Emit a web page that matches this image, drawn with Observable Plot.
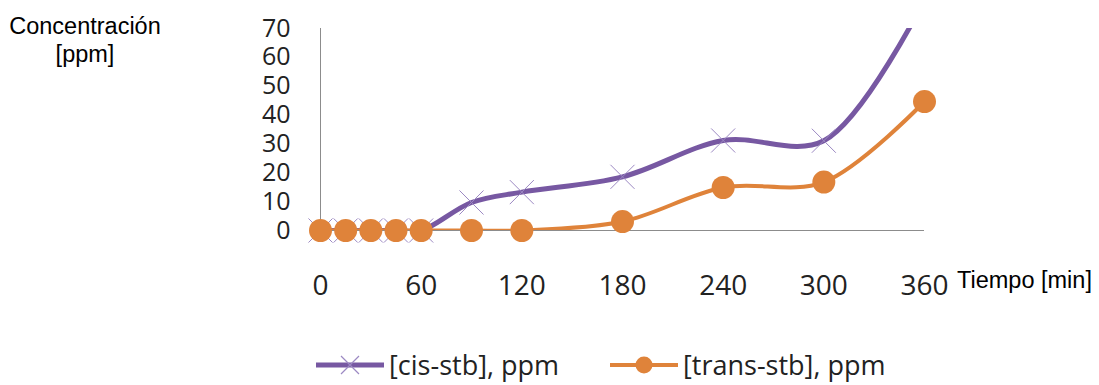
<!DOCTYPE html>
<html>
<head>
<meta charset="utf-8">
<script src="https://cdn.jsdelivr.net/npm/d3@7"></script>
<script src="https://cdn.jsdelivr.net/npm/@observablehq/plot@0.6"></script>
<style>
  body { margin: 0; background: #fff; }
  #wrap { position: relative; width: 1099px; height: 385px; overflow: hidden; }
  .lbl { position: absolute; font-family: "Liberation Sans", Arial, sans-serif; font-size: 23.5px; color: #000; line-height: 28px; white-space: nowrap; }
  #ylab { left: 0; top: 12px; width: 170px; text-align: center; }
  #xlab { left: 957px; top: 266px; }
  #legend .item { position: absolute; top: 348px; height: 34px; display: flex; align-items: center; white-space: nowrap;
                  font-family: "Open Sans", sans-serif; font-size: 27px; line-height: 34px; color: #222; }
  #legend svg { margin-right: 5px; }
</style>
</head>
<body>
<div id="wrap">
  <div id="chart"></div>
  <div class="lbl" id="ylab">Concentración<br>[ppm]</div>
  <div class="lbl" id="xlab">Tiempo [min]</div>
  <div id="legend"></div>
</div>
<script>
// Sampling times (min)
const tiempo = [0, 15, 30, 45, 60, 90, 120, 180, 240, 300, 360];
// Concentrations (ppm)
const cisStb = [0, 0, 0, 0, 0, 9.7, 13.3, 18.6, 31.2, 31.1, 80];
const transStb = [0, 0, 0, 0, 0, 0, 0, 3.1, 14.9, 16.8, 44.7];
const xTicks = [0, 60, 120, 180, 240, 300, 360];
const yTicks = [0, 10, 20, 30, 40, 50, 60, 70];
const seriesNames = ["[cis-stb], ppm", "[trans-stb], ppm"];

const purple = "#7758a2";
const purpleMarker = "#9c89c3";
const orange = "#df833a";

const cis = tiempo.map((t, i) => ({t, v: cisStb[i]}));
const trans = tiempo.map((t, i) => ({t, v: transStb[i]}));

const chart = Plot.plot({
  width: 1099,
  height: 340,
  marginLeft: 320,
  marginRight: 175,
  marginTop: 28,
  marginBottom: 110,
  style: {fontFamily: "'Open Sans', sans-serif", color: "#222", overflow: "visible"},
  x: {domain: [0, 360], ticks: xTicks, label: null},
  y: {domain: [0, 70], ticks: yTicks, label: null},
  marks: [
    Plot.ruleX([0], {stroke: "#8c8c8c", strokeWidth: 1}),
    Plot.ruleY([0], {stroke: "#8c8c8c", strokeWidth: 1}),
    Plot.axisY({ticks: yTicks, tickSize: 0, tickPadding: 30, fontSize: 25, label: null}),
    Plot.axisX({ticks: xTicks, tickSize: 0, tickPadding: 45, fontSize: 28, label: null}),
    Plot.line(cis, {x: "t", y: "v", stroke: purple, strokeWidth: 5, curve: "catmull-rom", clip: true}),
    Plot.line(trans, {x: "t", y: "v", stroke: orange, strokeWidth: 4, curve: "catmull-rom", clip: true}),
    Plot.dot(cis.filter(d => d.v <= 70), {x: "t", y: "v", symbol: "times", r: 11, stroke: purpleMarker, strokeWidth: 1}),
    Plot.dot(trans, {x: "t", y: "v", r: 11.5, fill: orange, stroke: "none"})
  ]
});
document.getElementById("chart").appendChild(chart);

// Legend: line swatch with the series marker, then the series name
const legend = document.getElementById("legend");
const swatches = [
  `<svg width="68" height="24"><line x1="0" y1="12" x2="68" y2="12" stroke="${purple}" stroke-width="5"/>` +
  `<path d="M25,3 L43,21 M43,3 L25,21" stroke="${purpleMarker}" stroke-width="1.2"/></svg>`,
  `<svg width="68" height="24"><line x1="0" y1="12" x2="68" y2="12" stroke="${orange}" stroke-width="4"/>` +
  `<circle cx="34" cy="12" r="8.5" fill="${orange}"/></svg>`
];
const itemLeft = [316, 610];
seriesNames.forEach((name, i) => {
  const item = document.createElement("div");
  item.className = "item";
  item.style.left = itemLeft[i] + "px";
  item.innerHTML = swatches[i] + `<span>${name}</span>`;
  legend.appendChild(item);
});
</script>
</body>
</html>
